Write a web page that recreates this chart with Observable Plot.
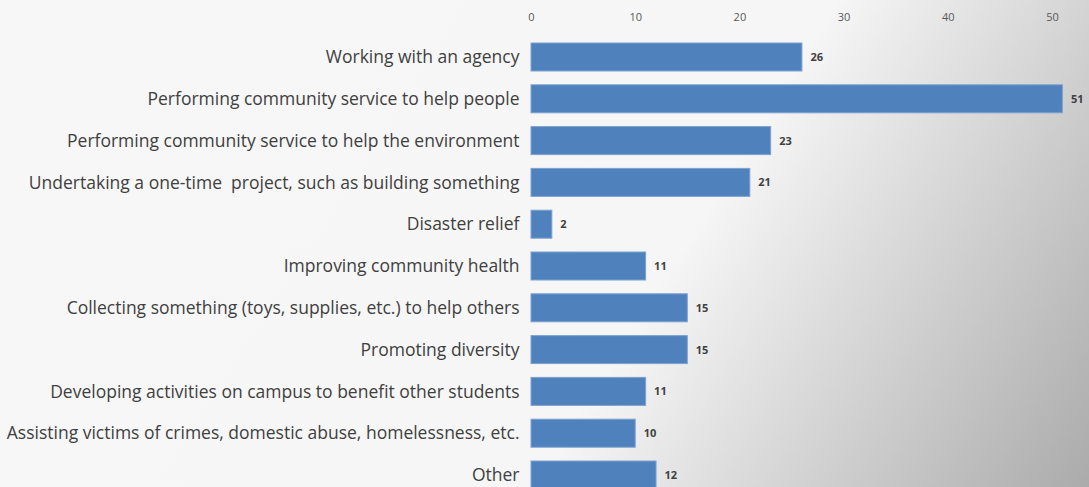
<!DOCTYPE html>
<html>
<head>
<meta charset="utf-8">
<script src="https://cdn.jsdelivr.net/npm/d3@7"></script>
<script src="https://cdn.jsdelivr.net/npm/@observablehq/plot@0.6"></script>
<style>
  html, body { margin: 0; padding: 0; width: 1089px; height: 487px; overflow: hidden; }
  body { background: linear-gradient(122deg, #f7f7f7 0%, #f6f6f6 60%, #ababab 100%); }
  svg { display: block; }
</style>
</head>
<body>
<div id="chart"></div>
<script>
const categories = [
  "Working with an agency",
  "Performing community service to help people",
  "Performing community service to help the environment",
  "Undertaking a one-time  project, such as building something",
  "Disaster relief",
  "Improving community health",
  "Collecting something (toys, supplies, etc.) to help others",
  "Promoting diversity",
  "Developing activities on campus to benefit other students",
  "Assisting victims of crimes, domestic abuse, homelessness, etc.",
  "Other"
];
const values = [26, 51, 23, 21, 2, 11, 15, 15, 11, 10, 12];
const xTicks = [0, 10, 20, 30, 40, 50];

const data = categories.map((c, i) => ({category: c, value: values[i]}));

const chart = Plot.plot({
  width: 1089,
  height: 487,
  marginTop: 35,
  marginBottom: 0,
  marginLeft: 531,
  marginRight: 0,
  style: {background: "transparent", fontFamily: "'Open Sans', Lato, sans-serif"},
  x: {domain: [0, 50], range: [531, 1052]},
  y: {domain: categories, range: [29.2, 502.8], padding: 0.33, round: false},
  marks: [
    Plot.gridX(xTicks.filter(d => d > 0), {stroke: "#d9d9d9", strokeOpacity: 1, y1: 35, y2: 487}),
    Plot.ruleX([0], {stroke: "#d9d9d9", y1: 35, y2: 487}),
    Plot.axisX(xTicks, {anchor: "top", tickSize: 0, tickPadding: 15, fontSize: 11, fill: "#595959", label: null}),
    Plot.axisY({tickSize: 0, tickPadding: 12, fontSize: 17.5, fill: "#404040", label: null}),
    Plot.barX(data, {y: "category", x: "value", fill: "#4f81bd", stroke: "#7da2d0", strokeWidth: 1}),
    Plot.text(data, {y: "category", x: "value", text: d => String(d.value), textAnchor: "start", dx: 8, fontSize: 11, fontWeight: "bold", fill: "#404040"})
  ]
});
document.getElementById("chart").appendChild(chart);
</script>
</body>
</html>
